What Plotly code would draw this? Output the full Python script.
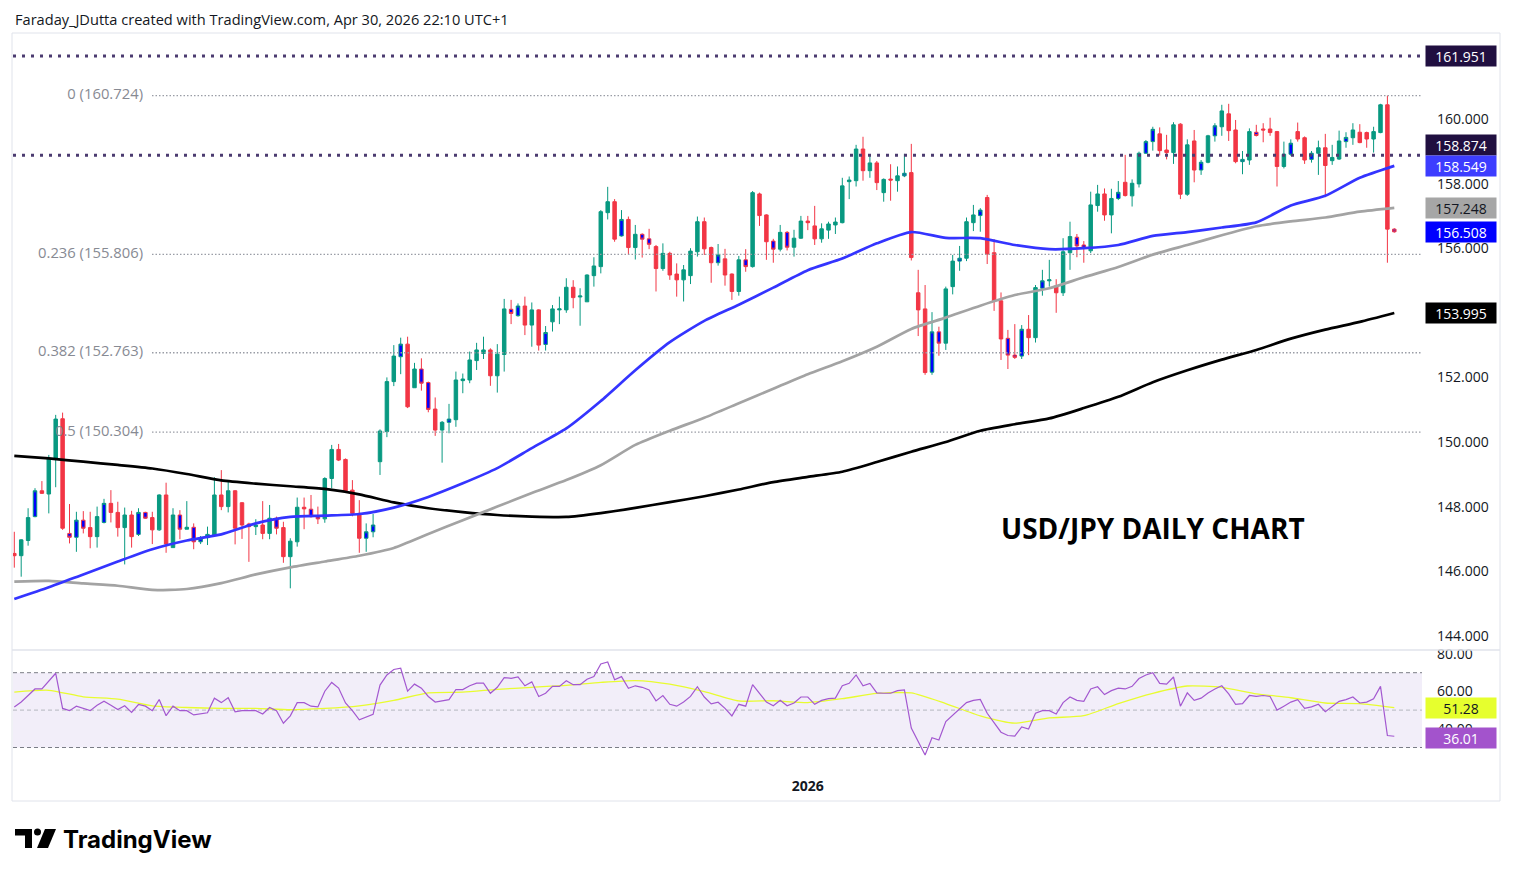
import plotly.graph_objects as go
import pandas as pd

W, H = 1514, 877
FONT = "Open Sans"

# ---------------- data ----------------
dates = [d for d in pd.bdate_range("2025-07-23", "2026-05-01")
         if d.strftime("%m-%d") not in ("12-25", "01-01")]

opens = [146.55, 146.48, 146.95, 147.69, 148.49, 148.39, 149.49, 150.72, 147.17, 147.05,
         147.58, 147.35, 147.07, 147.51, 148.10, 147.82, 147.35, 147.74, 147.14, 147.82,
         147.66, 147.28, 148.36, 146.73, 147.74, 147.30, 147.36, 146.91, 147.04, 147.12,
         148.36, 148.00, 148.49, 148.12, 147.46, 147.38, 147.43, 147.17, 147.64, 147.35,
         146.45, 146.91, 147.98, 147.92, 147.71, 147.62, 148.87, 149.77, 149.46, 148.51,
         147.79, 147.02, 147.22, 149.39, 150.32, 151.87, 152.64, 153.03, 151.68, 152.26,
         151.84, 151.02, 150.37, 150.61, 150.69, 151.90, 151.92, 152.52, 152.74, 152.85,
         152.05, 152.71, 154.11, 153.91, 154.21, 153.62, 154.09, 153.02, 153.72, 154.09,
         154.09, 154.79, 154.49, 154.34, 155.15, 155.43, 157.10, 157.44, 156.38, 156.89,
         156.02, 156.43, 156.29, 156.05, 155.37, 155.84, 155.20, 155.02, 155.15, 155.89,
         156.82, 156.02, 155.55, 155.67, 155.20, 154.66, 155.64, 155.43, 157.68, 157.03,
         156.22, 155.97, 156.49, 156.03, 156.31, 156.84, 156.69, 156.29, 156.56, 156.72,
         156.79, 158.06, 158.09, 159.07, 158.40, 158.64, 157.72, 158.14, 158.09, 158.24,
         158.34, 154.62, 154.12, 152.16, 153.41, 153.06, 154.81, 155.60, 155.69, 156.79,
         157.01, 157.57, 155.86, 154.37, 153.21, 152.69, 152.66, 153.49, 153.23, 154.76,
         154.99, 154.83, 154.62, 155.86, 156.34, 156.10, 155.92, 157.32, 157.68, 157.03,
         157.54, 158.04, 157.62, 157.99, 158.94, 159.30, 159.54, 159.04, 158.96, 159.84,
         157.67, 159.32, 158.42, 158.66, 159.48, 159.76, 160.16, 159.66, 158.68, 158.73,
         159.59, 159.69, 159.69, 159.61, 158.53, 158.91, 159.61, 159.42, 158.75, 158.94,
         159.11, 158.71, 158.76, 159.30, 159.42, 159.59, 159.58, 159.38, 159.58, 160.44,
         156.59]
highs = [147.22, 146.99, 147.95, 148.57, 148.79, 149.60, 150.84, 150.91, 148.08, 147.84,
         147.86, 147.84, 148.00, 148.24, 148.51, 148.15, 147.97, 147.87, 147.95, 147.84,
         147.84, 148.38, 148.74, 147.95, 147.89, 148.17, 147.48, 147.09, 147.38, 148.91,
         149.13, 148.77, 148.51, 148.14, 147.50, 147.61, 148.17, 148.05, 147.69, 147.53,
         147.02, 148.28, 148.28, 148.36, 148.00, 148.91, 149.91, 149.94, 149.49, 148.82,
         148.20, 147.48, 147.77, 150.39, 152.00, 153.00, 153.23, 153.26, 152.45, 152.59,
         151.87, 151.38, 150.65, 151.18, 152.18, 152.12, 152.80, 153.07, 153.26, 152.90,
         153.03, 154.43, 154.40, 154.29, 154.50, 154.32, 154.11, 153.59, 154.24, 154.50,
         155.07, 155.01, 154.76, 155.19, 155.72, 157.18, 157.90, 157.52, 157.18, 156.98,
         156.72, 156.46, 156.60, 156.10, 156.15, 155.89, 155.53, 155.48, 156.00, 156.98,
         156.95, 156.05, 156.13, 155.98, 155.22, 155.76, 155.97, 157.77, 157.72, 157.05,
         156.29, 156.72, 156.53, 156.57, 157.00, 157.00, 157.31, 156.77, 156.82, 156.95,
         158.18, 158.22, 159.20, 159.45, 158.89, 158.70, 158.16, 158.60, 158.53, 158.92,
         159.23, 155.33, 154.86, 154.02, 153.57, 154.81, 155.79, 156.07, 156.95, 157.34,
         157.24, 157.65, 156.28, 154.63, 153.47, 153.65, 153.62, 153.93, 154.86, 155.33,
         155.64, 155.04, 156.31, 156.82, 156.44, 156.22, 157.75, 157.96, 157.85, 157.84,
         158.08, 158.89, 158.13, 158.99, 159.35, 159.76, 159.74, 159.51, 159.90, 159.87,
         159.37, 159.66, 158.73, 159.51, 159.87, 160.44, 160.47, 159.97, 159.01, 159.71,
         159.82, 159.87, 160.04, 159.63, 159.30, 159.37, 159.89, 159.46, 159.01, 159.33,
         159.54, 159.20, 159.64, 159.59, 159.87, 159.84, 159.61, 159.76, 160.47, 160.724,
         156.62]
lows = [146.11, 145.83, 146.79, 147.67, 148.39, 147.79, 148.60, 147.28, 146.86, 146.60,
        147.17, 146.71, 146.73, 147.48, 147.51, 147.07, 146.21, 146.73, 147.09, 147.62,
        146.84, 147.25, 146.57, 146.73, 146.99, 147.30, 146.68, 146.84, 146.81, 147.07,
        147.89, 147.82, 146.83, 147.00, 146.29, 147.12, 146.99, 146.99, 147.14, 146.26,
        145.47, 146.76, 147.30, 147.66, 147.46, 147.50, 148.57, 149.41, 148.46, 147.70,
        146.57, 146.60, 147.05, 148.98, 150.15, 151.73, 152.10, 151.05, 151.68, 151.59,
        150.92, 150.19, 149.36, 150.27, 150.47, 151.51, 151.82, 152.23, 152.57, 151.74,
        151.53, 152.18, 153.65, 153.88, 153.31, 152.95, 152.83, 152.83, 153.42, 153.65,
        154.00, 154.14, 153.60, 154.34, 154.81, 155.22, 156.89, 156.20, 156.36, 155.79,
        155.65, 155.71, 155.97, 154.66, 155.30, 155.02, 154.50, 154.35, 154.89, 155.74,
        155.79, 154.93, 155.46, 154.84, 154.40, 154.53, 155.27, 155.40, 156.69, 155.64,
        155.55, 155.90, 155.93, 155.74, 156.29, 156.56, 156.10, 156.17, 156.29, 156.44,
        156.77, 157.52, 157.91, 158.09, 158.18, 157.80, 157.44, 157.47, 157.75, 158.20,
        155.62, 153.28, 152.08, 152.08, 152.67, 152.85, 154.57, 155.30, 155.60, 156.53,
        156.51, 155.51, 154.06, 152.54, 152.26, 152.57, 152.57, 152.69, 153.08, 154.53,
        154.81, 154.00, 154.52, 155.33, 155.72, 155.55, 155.85, 157.13, 156.85, 156.46,
        157.49, 157.60, 157.29, 157.88, 158.92, 159.02, 158.87, 158.75, 158.61, 157.52,
        157.62, 158.04, 158.27, 158.63, 159.30, 159.48, 159.32, 158.63, 158.29, 158.58,
        159.46, 159.28, 159.48, 157.91, 158.47, 158.86, 159.30, 158.61, 158.65, 158.27,
        157.58, 158.58, 158.73, 159.11, 159.20, 159.25, 159.11, 158.96, 159.56, 155.55,
        156.48]
closes = [146.48, 146.97, 147.66, 148.49, 148.41, 149.49, 150.71, 147.33, 147.05, 147.58,
          147.33, 147.07, 147.69, 148.10, 147.82, 147.35, 147.74, 147.07, 147.82, 147.64,
          147.28, 148.36, 146.84, 147.74, 147.30, 147.36, 146.91, 147.02, 147.14, 148.36,
          148.00, 148.49, 147.33, 147.43, 147.38, 147.43, 147.17, 147.64, 147.33, 146.45,
          146.93, 147.98, 147.93, 147.69, 147.62, 148.87, 149.77, 149.44, 148.49, 147.79,
          147.02, 147.22, 147.43, 150.34, 151.87, 152.66, 153.03, 151.09, 152.26, 151.82,
          151.01, 150.37, 150.61, 150.71, 151.92, 151.95, 152.54, 152.85, 152.85, 152.05,
          152.72, 154.12, 153.98, 154.21, 153.62, 154.09, 153.00, 153.39, 154.12, 154.12,
          154.79, 154.47, 154.52, 155.17, 155.45, 157.13, 157.44, 156.28, 156.89, 156.02,
          156.43, 156.28, 156.12, 155.37, 155.84, 155.17, 155.02, 155.33, 155.91, 156.82,
          155.98, 155.55, 155.79, 155.17, 154.66, 155.64, 155.43, 157.72, 157.01, 156.20,
          155.97, 156.49, 156.03, 156.31, 156.84, 156.79, 156.29, 156.60, 156.75, 156.81,
          157.93, 158.11, 159.07, 158.40, 158.64, 158.03, 158.13, 158.11, 158.24, 158.32,
          155.71, 154.09, 152.15, 153.41, 153.06, 154.74, 155.60, 155.69, 156.82, 157.03,
          157.18, 155.82, 154.35, 153.19, 152.69, 152.62, 153.49, 153.23, 154.78, 154.99,
          155.02, 154.62, 155.89, 156.36, 156.07, 156.00, 157.34, 157.68, 157.03, 157.54,
          157.73, 157.63, 158.01, 158.94, 159.30, 159.68, 159.02, 158.96, 159.82, 157.67,
          159.20, 158.42, 158.66, 159.48, 159.79, 160.25, 159.64, 158.68, 158.75, 159.61,
          159.49, 159.66, 159.58, 158.53, 158.91, 159.25, 159.38, 158.73, 158.94, 159.11,
          158.56, 158.81, 159.32, 159.43, 159.66, 159.27, 159.38, 159.61, 160.44, 156.59,
          156.508]
# bars painted blue by the chart's bar-colouring indicator
blue_bars = [3, 8, 9, 10, 13, 18, 19, 24, 26, 27, 28, 34, 38, 43, 44, 51, 52, 56, 59, 60,
             63, 72, 73, 77, 88, 91, 92, 102, 106, 110, 112, 129, 133, 134, 137, 140, 144,
             145, 146, 149, 154, 155, 160, 164, 165, 172, 174, 178, 180, 185, 188, 193, 200]

ma_bars = list(range(0, 201, 5))
ma50 = [145.14, 145.50, 145.90, 146.30, 146.68, 146.95, 147.14, 147.48, 147.68, 147.72,
        147.77, 147.97, 148.30, 148.72, 149.19, 149.81, 150.42, 151.27, 152.22, 153.09,
        153.75, 154.25, 154.78, 155.32, 155.68, 156.15, 156.50, 156.32, 156.31, 156.10,
        155.97, 156.00, 156.10, 156.38, 156.50, 156.64, 156.80, 157.32, 157.62, 158.18,
        158.549]
ma100 = [145.68, 145.70, 145.62, 145.55, 145.42, 145.45, 145.63, 145.90, 146.12, 146.30,
         146.48, 146.72, 147.15, 147.58, 148.00, 148.42, 148.82, 149.28, 149.91, 150.35,
         150.75, 151.20, 151.65, 152.10, 152.50, 152.95, 153.50, 153.85, 154.22, 154.55,
         154.76, 155.10, 155.42, 155.80, 156.10, 156.40, 156.68, 156.83, 156.95, 157.13,
         157.248]
ma200 = [149.57, 149.49, 149.39, 149.29, 149.18, 149.01, 148.81, 148.71, 148.63, 148.55,
         148.38, 148.13, 147.95, 147.83, 147.74, 147.69, 147.68, 147.80, 147.96, 148.14,
         148.32, 148.53, 148.76, 148.92, 149.08, 149.38, 149.70, 150.00, 150.35, 150.55,
         150.73, 151.05, 151.40, 151.85, 152.22, 152.55, 152.85, 153.20, 153.48, 153.72,
         153.995]

rsi = [51.7, 54.3, 57.8, 61.3, 61.3, 65.7, 69.7, 50.9, 49.7, 52.1,
       50.9, 49.7, 52.6, 54.7, 52.6, 50.3, 52.3, 48.8, 53.0, 52.1,
       49.7, 55.7, 47.0, 52.1, 49.7, 49.7, 47.4, 47.9, 48.6, 56.4,
       54.0, 56.6, 49.1, 49.7, 49.7, 49.7, 47.9, 51.4, 49.7, 43.0,
       46.9, 54.0, 54.0, 52.1, 51.7, 60.1, 64.8, 61.8, 53.8, 49.7,
       44.8, 46.2, 47.7, 63.4, 68.8, 71.7, 72.4, 60.1, 63.9, 61.7,
       57.3, 54.3, 54.9, 55.6, 61.0, 61.0, 63.0, 64.4, 64.4, 59.0,
       62.2, 67.4, 67.0, 67.7, 63.0, 65.1, 57.3, 59.0, 62.7, 62.7,
       65.7, 63.6, 63.6, 66.5, 67.9, 74.7, 75.7, 66.2, 67.9, 61.7,
       63.0, 62.2, 60.8, 54.9, 57.8, 53.1, 52.1, 54.3, 57.3, 62.5,
       57.0, 53.3, 54.2, 50.9, 46.9, 53.1, 52.1, 63.6, 59.0, 54.3,
       52.3, 55.2, 52.3, 53.8, 57.0, 57.0, 53.1, 55.2, 56.1, 56.4,
       63.0, 64.3, 68.8, 63.0, 64.3, 59.2, 59.0, 59.0, 60.4, 60.8,
       40.4, 33.0, 26.0, 35.2, 34.0, 43.9, 47.4, 50.5, 54.0, 55.2,
       55.7, 48.3, 43.0, 38.2, 36.4, 36.1, 41.0, 39.9, 48.3, 49.7,
       49.7, 47.9, 54.0, 57.0, 55.2, 54.7, 61.3, 62.5, 58.3, 60.4,
       61.7, 61.3, 62.7, 66.9, 68.8, 70.0, 64.3, 63.9, 67.7, 52.1,
       59.2, 55.2, 56.4, 59.2, 61.3, 63.0, 58.7, 53.1, 53.5, 57.8,
       57.3, 57.8, 57.3, 50.0, 52.1, 54.3, 55.6, 50.9, 51.7, 53.1,
       49.1, 51.7, 54.7, 55.6, 57.0, 53.8, 54.3, 56.1, 62.7, 36.4,
       36.01]
rsi_ma = [59.6, 60.6, 57.1, 55.9, 52.3, 51.4, 50.9, 50.9, 50.2, 50.9,
          52.3, 55.2, 59.2, 59.6, 61.1, 62.2, 63.2, 64.8, 65.8, 63.9,
          59.9, 54.9, 55.0, 54.0, 56.1, 58.9, 59.2, 53.5, 46.9, 43.0,
          45.8, 47.0, 53.5, 59.0, 62.9, 62.2, 58.7, 56.6, 53.8, 53.5,
          51.28]

fib_ratios = ["0", "0.236", "0.382", "0.5"]
fib_levels = [160.724, 155.806, 152.763, 150.304]
key_levels = [161.951, 158.874]
price_ticks = [160, 158, 156, 152, 150, 148, 146, 144]
rsi_ticks = [80, 60, 40]
rsi_bands = [70, 50, 30]
year_labels = ["2026"]
year_first_bar = [dates.index(pd.Timestamp("2026-01-02"))]

# ---------------- style ----------------
GREEN, RED, BLUE = "#089981", "#f23645", "#0000ff"
MA50_C, MA100_C, MA200_C = "#3434ff", "#a3a3a3", "#000000"
RSI_C, RSIMA_C = "#a358d0", "#e8fc30"
LEVEL_C, LEVEL_BG = "#4b3b70", "#200f40"
FIB_C = "#9a9da6"
TXT = "#131722"

n = len(closes)
xi = list(range(n))
X_LEFT, X_RIGHT = 13, 1422           # plot area in px
BAR0, BAR_DX = 14.3, 6.9             # px of first bar, px per bar
xr = [(X_LEFT - BAR0) / BAR_DX, (X_RIGHT - BAR0) / BAR_DX]

def px(x):
    return x / W

def py(y):
    return 1 - y / H

fig = go.Figure()

# fib levels (drawn behind the candles)
fib_start = (152 - BAR0) / BAR_DX
for lv in fib_levels:
    fig.add_trace(go.Scatter(x=[fib_start, xr[1]], y=[lv, lv], mode="lines",
                             line=dict(color=FIB_C, width=1.3, dash="1.5px,2px"),
                             hoverinfo="skip", showlegend=False))
fig.add_trace(go.Scatter(x=[(143 - BAR0) / BAR_DX] * len(fib_levels), y=fib_levels,
                         text=[f"{r} ({v:.3f})" for r, v in zip(fib_ratios, fib_levels)],
                         mode="text", textposition="middle left",
                         textfont=dict(family=FONT, size=14.8, color="#878a93"),
                         hoverinfo="skip", showlegend=False))
for lv in key_levels:
    fig.add_trace(go.Scatter(x=[xr[0], xr[1]], y=[lv, lv], mode="lines",
                             line=dict(color=LEVEL_C, width=3, dash="3px,6px"),
                             hoverinfo="skip", showlegend=False))

# candles, split into the four colourings
groups = [
    (lambda i: i not in blue_bars and closes[i] >= opens[i], GREEN, GREEN),
    (lambda i: i not in blue_bars and closes[i] < opens[i], RED, RED),
    (lambda i: i in blue_bars and closes[i] >= opens[i], GREEN, BLUE),
    (lambda i: i in blue_bars and closes[i] < opens[i], RED, BLUE),
]
for cond, lc, fc in groups:
    idx = [i for i in xi if cond(i)]
    style = dict(line=dict(color=lc, width=1), fillcolor=fc)
    fig.add_trace(go.Candlestick(
        x=idx, open=[opens[i] for i in idx], high=[highs[i] for i in idx],
        low=[lows[i] for i in idx], close=[closes[i] for i in idx],
        increasing=style, decreasing=style, whiskerwidth=0,
        hoverinfo="skip", showlegend=False, xaxis="x", yaxis="y"))

# moving averages (above candles)
for vals, col in ((ma200, MA200_C), (ma100, MA100_C), (ma50, MA50_C)):
    fig.add_trace(go.Scatter(x=ma_bars, y=vals, mode="lines",
                             line=dict(color=col, width=2.7, shape="spline", smoothing=0.6),
                             hoverinfo="skip", showlegend=False))

# RSI pane
fig.add_trace(go.Scatter(x=ma_bars, y=rsi_ma, mode="lines", xaxis="x2", yaxis="y2",
                         line=dict(color=RSIMA_C, width=1.3, shape="spline", smoothing=0.6),
                         hoverinfo="skip", showlegend=False))
fig.add_trace(go.Scatter(x=xi, y=rsi, mode="lines", xaxis="x2", yaxis="y2",
                         line=dict(color=RSI_C, width=1.2),
                         hoverinfo="skip", showlegend=False))

shapes = [
    dict(type="rect", xref="x2 domain", yref="y2", x0=0, x1=1, y0=rsi_bands[2], y1=rsi_bands[0],
         fillcolor="rgba(126,87,194,0.10)", line=dict(width=0), layer="below"),
]
for b, col in zip(rsi_bands, ["#7a7d86", "#b4b7be", "#7a7d86"]):
    shapes.append(dict(type="line", xref="x2 domain", yref="y2", x0=0, x1=1, y0=b, y1=b,
                       line=dict(color=col, width=1, dash="4px,3px"), layer="below"))
# pane clip above the RSI scale (hides the top of "80.00" as in the original)
shapes.append(dict(type="rect", xref="paper", yref="paper", x0=px(1426), x1=px(1499),
                   y0=py(649.5), y1=py(644.5), fillcolor="#ffffff", line=dict(width=0),
                   layer="above"))
# frame and pane separator
shapes.append(dict(type="rect", xref="paper", yref="paper", x0=px(12), x1=px(1500),
                   y0=py(801), y1=py(33), line=dict(color="#e0e3eb", width=1)))
shapes.append(dict(type="line", xref="paper", yref="paper", x0=px(12), x1=px(1500),
                   y0=py(650), y1=py(650), line=dict(color="#e0e3eb", width=1.5)))
# TradingView logo mark
def path(pts):
    return "M " + " L ".join(f"{px(a):.5f},{py(b):.5f}" for a, b in pts) + " Z"
shapes.append(dict(type="path", xref="paper", yref="paper", line=dict(width=0), fillcolor="#000",
                   path=path([(15, 829), (32, 829), (32, 848), (25, 848), (25, 835.5), (15, 835.5)])))
shapes.append(dict(type="circle", xref="paper", yref="paper", line=dict(width=0), fillcolor="#000",
                   x0=px(34), x1=px(41), y0=py(835.5), y1=py(828.5)))
shapes.append(dict(type="path", xref="paper", yref="paper", line=dict(width=0), fillcolor="#000",
                   path=path([(45, 829), (56, 829), (48, 848), (37, 848)])))

# value labels on the price scale
def tag(y, yref, text, bg, fg, shift=0):
    return dict(x=px(1425), xref="paper", xanchor="left", y=y, yref=yref, yanchor="middle",
                text=text, showarrow=False, bgcolor=bg, width=66, height=16, borderpad=2,
                align="center", yshift=shift, font=dict(family=FONT, size=14, color=fg))

annotations = [
    tag(key_levels[0], "y", f"{key_levels[0]:.3f}", LEVEL_BG, "#ffffff"),
    tag(key_levels[1], "y", f"{key_levels[1]:.3f}", LEVEL_BG, "#ffffff", shift=10),
    tag(ma50[-1], "y", f"{ma50[-1]:.3f}", "#3d3dff", "#ffffff"),
    tag(ma100[-1], "y", f"{ma100[-1]:.3f}", "#a6a6a6", "#131722"),
    tag(closes[-1], "y", f"{closes[-1]:.3f}", BLUE, "#ffffff"),
    tag(ma200[-1], "y", f"{ma200[-1]:.3f}", "#000000", "#ffffff"),
    tag(rsi_ma[-1], "y2", f"{rsi_ma[-1]:.2f}", "#e6ff2e", "#131722"),
    tag(rsi[-1], "y2", f"{rsi[-1]:.2f}", "#a353cc", "#ffffff", shift=-2),
    dict(x=px(13), y=py(19), xref="paper", yref="paper", xanchor="left", yanchor="middle",
         text="Faraday_JDutta created with TradingView.com, Apr 30, 2026 22:10 UTC+1",
         showarrow=False, font=dict(family=FONT, size=14.6, color=TXT)),
    dict(x=px(999), y=py(528), xref="paper", yref="paper", xanchor="left", yanchor="middle",
         text="<b>USD/JPY DAILY CHART</b>", showarrow=False,
         font=dict(family=FONT, size=28, color="#000000")),
    dict(x=px(61), y=py(839), xref="paper", yref="paper", xanchor="left", yanchor="middle",
         text="<b>TradingView</b>", showarrow=False,
         font=dict(family="Inter", size=24, color="#000000")),
]

ydom_main = [py(650), py(33)]
ydom_rsi = [py(770), py(650)]
y_top = 160 + (119 - 33) / 32.3
y_bot = 160 - (650 - 119) / 32.3
r_top = 80 + (654 - 650) / 1.87
r_bot = 80 - (770 - 654) / 1.87

fig.update_layout(
    width=W, height=H, autosize=False,
    margin=dict(l=0, r=0, t=0, b=0, pad=0, autoexpand=False),
    paper_bgcolor="#ffffff", plot_bgcolor="#ffffff",
    showlegend=False, hovermode=False, boxgap=0.28,
    font=dict(family=FONT, size=14, color=TXT),
    xaxis=dict(domain=[px(X_LEFT), px(X_RIGHT)], range=xr, anchor="y",
               showticklabels=False, showgrid=False, zeroline=False, showline=False,
               rangeslider=dict(visible=False), fixedrange=True, automargin=False),
    yaxis=dict(domain=ydom_main, range=[y_bot, y_top], side="right", anchor="x",
               tickvals=price_ticks, tickformat=".3f", ticks="", ticklabelstandoff=14,
               showgrid=False, zeroline=False, showline=False, automargin=False,
               tickfont=dict(family=FONT, size=14, color=TXT)),
    xaxis2=dict(domain=[px(X_LEFT), px(X_RIGHT)], range=xr, anchor="y2",
                tickvals=year_first_bar, ticktext=[f"<b>{t}</b>" for t in year_labels],
                ticks="", ticklabelstandoff=6, showgrid=False, zeroline=False, showline=False,
                automargin=False, tickfont=dict(family=FONT, size=14, color=TXT)),
    yaxis2=dict(domain=ydom_rsi, range=[r_bot, r_top], side="right", anchor="x2",
                tickvals=rsi_ticks, tickformat=".2f", ticks="", ticklabelstandoff=14,
                showgrid=False, zeroline=False, showline=False, automargin=False,
                tickfont=dict(family=FONT, size=14, color=TXT)),
    shapes=shapes, annotations=annotations,
)

fig.write_html("out.html", config={"displayModeBar": False, "responsive": False},
               post_script="document.body.style.margin='0';document.body.style.overflow='hidden';")
